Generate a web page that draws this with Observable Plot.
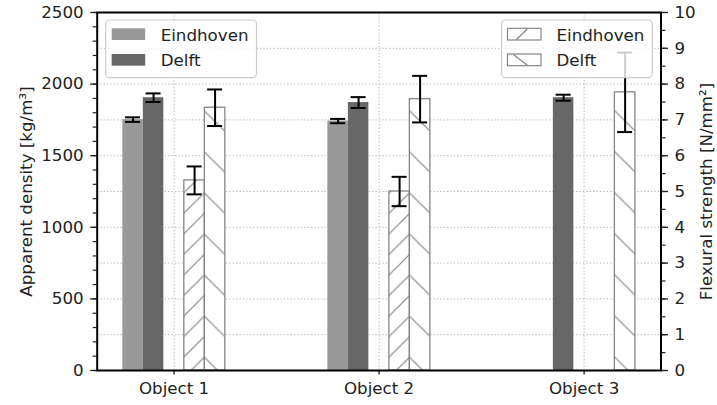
<!DOCTYPE html>
<html>
<head>
<meta charset="utf-8">
<script src="https://cdn.jsdelivr.net/npm/d3@7"></script>
<script src="https://cdn.jsdelivr.net/npm/@observablehq/plot@0.6"></script>
<style>
  html, body { margin: 0; padding: 0; background: white; }
</style>
</head>
<body>
<div id="chart"></div>
<script>
// Test objects along the x axis
const objects = ["Object 1", "Object 2", "Object 3"];

// Apparent density [kg/m³] with standard deviation
const densityEindhoven = [1752, 1742, null];
const densityEindhovenErr = [16, 15, null];
const densityDelft = [1905, 1871, 1905];
const densityDelftErr = [30, 38, 21];

// Flexural strength [N/mm²] with standard deviation
const strengthEindhoven = [5.31, 5.0, null];
const strengthEindhovenErr = [0.39, 0.41, null];
const strengthDelft = [7.34, 7.58, 7.77];
const strengthDelftErr = [0.51, 0.65, 1.11];

// Axis ticks
const densityTicks = [0, 500, 1000, 1500, 2000, 2500];
const strengthTicks = [0, 1, 2, 3, 4, 5, 6, 7, 8, 9, 10];

// Both quantities share one vertical scale: 10 N/mm² spans the same height as 2500 kg/m³
const k = 2500 / 10;

const W = 717, H = 405;
const mL = 96.7, mR = 56.5, mT = 12, mB = 35;
const font = "DejaVu Sans";
const fs = 16.7;

// Five slots per object (two density bars, a gap, two strength bars), five spacer slots between objects
const kinds = ["dE", "dD", "mid", "sE", "sD"];
const slots = [];
objects.forEach((o, i) => {
  if (i > 0) for (let s = 0; s < 5; s++) slots.push(`gap${i}-${s}`);
  kinds.forEach(kind => slots.push(`${o}|${kind}`));
});
const centers = objects.map(o => `${o}|mid`);

function rows(kind, values, errs, factor) {
  return objects
    .map((o, i) => ({key: `${o}|${kind}`, value: values[i] == null ? null : values[i] * factor,
                     err: errs[i] == null ? null : errs[i] * factor}))
    .filter(d => d.value != null);
}
const rDE = rows("dE", densityEindhoven, densityEindhovenErr, 1);
const rDD = rows("dD", densityDelft, densityDelftErr, 1);
const rSE = rows("sE", strengthEindhoven, strengthEindhovenErr, k);
const rSD = rows("sD", strengthDelft, strengthDelftErr, k);
const all = [...rDE, ...rDD, ...rSE, ...rSD];

const gridValues = strengthTicks.slice(1, -1).map(v => v * k);
const grid = {stroke: "#b8b8b8", strokeWidth: 1, strokeDasharray: "1.4,2"};
const hatchStroke = "#858585";
const fmt = d3.format("d");

const chart = Plot.plot({
  width: W,
  height: H,
  marginLeft: mL,
  marginRight: mR,
  marginTop: mT,
  marginBottom: mB,
  style: {fontFamily: font, fontSize: fs + "px", color: "#222", background: "white"},
  x: {domain: slots, paddingInner: 0, paddingOuter: 1.25, round: false, axis: null},
  y: {domain: [0, 2500], axis: null},
  marks: [
    Plot.ruleY(gridValues, grid),
    Plot.ruleX(centers, {x: d => d, ...grid}),
    Plot.barY(rDE, {x: "key", y: "value", fill: "#999999"}),
    Plot.barY(rDD, {x: "key", y: "value", fill: "#676767"}),
    Plot.barY(rSE, {x: "key", y: "value", fill: "url(#hatchE)", stroke: hatchStroke, strokeWidth: 1.3}),
    Plot.barY(rSD, {x: "key", y: "value", fill: "url(#hatchD)", stroke: hatchStroke, strokeWidth: 1.3}),
    Plot.ruleX(all, {x: "key", y1: d => d.value - d.err, y2: d => d.value + d.err, stroke: "black", strokeWidth: 2}),
    Plot.tickY(all, {x: "key", y: d => d.value - d.err, insetLeft: 2.75, insetRight: 2.75, stroke: "black", strokeWidth: 2}),
    Plot.tickY(all, {x: "key", y: d => d.value + d.err, insetLeft: 2.75, insetRight: 2.75, stroke: "black", strokeWidth: 2}),
    // left axis: density
    Plot.axisY({anchor: "left", ticks: d3.range(0, 2501, 100), tickSize: 4, tickFormat: () => "", strokeWidth: 1.2, label: null}),
    Plot.axisY({anchor: "left", ticks: densityTicks, tickFormat: fmt, tickSize: 6.5, tickPadding: 7, strokeWidth: 1.3, label: null}),
    // right axis: flexural strength
    Plot.axisY({anchor: "right", ticks: d3.range(0, 2501, k / 2), tickSize: 4, tickFormat: () => "", strokeWidth: 1.2, label: null}),
    Plot.axisY({anchor: "right", ticks: strengthTicks.map(v => v * k), tickFormat: d => fmt(d / k),
                tickSize: 6.5, tickPadding: 7, strokeWidth: 1.3, label: null}),
    Plot.axisX({anchor: "bottom", ticks: centers, tickFormat: d => d.split("|")[0], tickSize: 4.5, tickPadding: 7, strokeWidth: 1.3, label: null}),
    Plot.frame({stroke: "black", strokeWidth: 2}),
    Plot.text(["Apparent density [kg/m³]"], {frameAnchor: "left", textAnchor: "middle", rotate: -90, dx: -71, fontSize: fs, fill: "#222"}),
    Plot.text(["Flexural strength [N/mm²]"], {frameAnchor: "right", textAnchor: "middle", rotate: -90, dx: 46, fontSize: fs, fill: "#222"})
  ]
});

const svg = d3.select(chart);

// Hatch patterns for the strength bars
const defs = svg.insert("defs", ":first-child");
function hatch(id, s, ox, forward) {
  const p = defs.append("pattern")
    .attr("id", id).attr("patternUnits", "userSpaceOnUse")
    .attr("width", s).attr("height", s).attr("x", ox).attr("y", 0);
  p.append("rect").attr("width", s).attr("height", s).attr("fill", "white");
  const d = forward
    ? `M0,${s}L${s},0M-2,2L2,-2M${s - 2},${s + 2}L${s + 2},${s - 2}`
    : `M0,0L${s},${s}M-2,${s - 2}L2,${s + 2}M${s - 2},-2L${s + 2},2`;
  p.append("path").attr("d", d).attr("stroke", hatchStroke).attr("stroke-width", 1.2).attr("fill", "none");
}
hatch("hatchE", 20.53, 7.1, true);
hatch("hatchD", 41.06, 11.4, false);

// Legends
const frameLeft = mL, frameRight = W - mR, frameTop = mT;
function legend(x0, entries) {
  const g = svg.append("g").attr("text-anchor", "start");
  g.append("rect")
    .attr("x", x0).attr("y", frameTop + 8).attr("width", 150.8).attr("height", 57.6)
    .attr("rx", 4).attr("fill", "white").attr("fill-opacity", 0.8)
    .attr("stroke", "#cccccc").attr("stroke-width", 1.2);
  entries.forEach((e, i) => {
    const py = frameTop + 16.3 + i * 25.7;
    const px = x0 + 6;
    const r = g.append("rect").attr("x", px).attr("y", py).attr("width", 33.5).attr("height", 11.7);
    if (e.fill) {
      r.attr("fill", e.fill);
    } else {
      r.attr("fill", "white").attr("stroke", hatchStroke).attr("stroke-width", 1.2);
      const [a, b] = e.slash === "/" ? [[px + 8.5, py + 11.7], [px + 20, py + 0.5]] : [[px + 5.5, py + 0.3], [px + 20.5, py + 11.7]];
      g.append("line").attr("x1", a[0]).attr("y1", a[1]).attr("x2", b[0]).attr("y2", b[1])
        .attr("stroke", hatchStroke).attr("stroke-width", 1.2);
    }
    g.append("text").attr("x", x0 + 55).attr("y", frameTop + 28.7 + i * 25.7)
      .attr("text-anchor", "start")
      .attr("font-family", font).attr("font-size", fs).attr("fill", "#222").text(e.label);
  });
}
legend(frameLeft + 9, [
  {label: "Eindhoven", fill: "#999999"},
  {label: "Delft", fill: "#676767"}
]);
legend(frameRight - 8.2 - 150.8, [
  {label: "Eindhoven", slash: "/"},
  {label: "Delft", slash: "\\"}
]);

document.getElementById("chart").appendChild(chart);
</script>
</body>
</html>
